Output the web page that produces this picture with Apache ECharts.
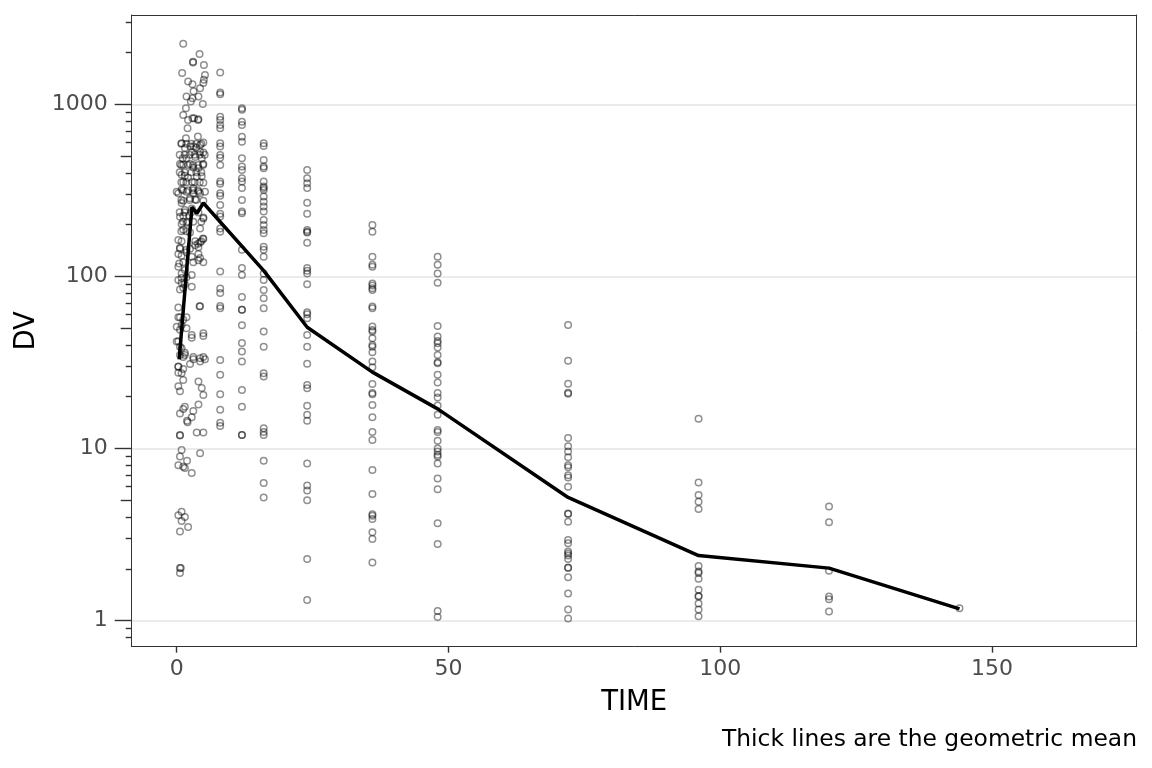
<!DOCTYPE html>
<html>
<head>
<meta charset="utf-8">
<script src="https://cdn.jsdelivr.net/npm/echarts@6/dist/echarts.min.js"></script>
<style>
  html, body { margin: 0; padding: 0; background: #fff; }
  #main { width: 1152px; height: 768px; }
</style>
</head>
<body>
<div id="main"></div>
<script>
// early samples (0-5.5 h), [time, DV]
const obsEarly = [
  [1.2, 2250], [4.2, 1960], [3.0, 1770], [3.0, 1750], [5.0, 1690], [1.0, 1520], [5.2, 1480],
  [2.1, 1355], [2.9, 1310], [4.9, 1330], [5.0, 1390], [3.1, 1190], [4.3, 1240], [1.8, 1110],
  [2.9, 1085], [4.0, 1110], [2.6, 1040], [4.8, 1005], [1.7, 950], [1.2, 867], [2.9, 830],
  [3.2, 830], [4.0, 820], [2.0, 726], [1.7, 635], [3.9, 650], [4.3, 580], [4.9, 600],
  [0.9, 594], [2.5, 568], [3.1, 568], [3.6, 560], [1.5, 557], [2.8, 528], [4.3, 530],
  [4.9, 525], [1.1, 486], [1.8, 486], [3.4, 495], [4.6, 486], [0.6, 450], [1.2, 445],
  [2.45, 450], [4.9, 450], [3.05, 430], [4.0, 425], [0.9, 390], [1.5, 385], [2.1, 375],
  [3.7, 380], [4.6, 382], [1.2, 354], [2.8, 354], [4.9, 350], [0.0, 310], [0.9, 320],
  [1.8, 310], [3.05, 325], [4.0, 310], [5.2, 310], [0.3, 304], [3.05, 304], [4.3, 304],
  [1.2, 275], [2.45, 285], [3.4, 280], [4.9, 275], [0.9, 267], [1.5, 243], [2.8, 248],
  [4.0, 235], [0.6, 222], [1.2, 225], [2.3, 225], [4.9, 220], [4.9, 217], [0.9, 202],
  [1.8, 205], [3.05, 208], [1.2, 187], [4.3, 190], [2.45, 180], [0.3, 163], [0.9, 160],
  [3.4, 160], [4.9, 165], [4.3, 158], [3.37, 152], [0.6, 147], [4.0, 148], [1.8, 143],
  [0.6, 145], [2.45, 145], [0.3, 135], [0.9, 132], [1.8, 138], [4.0, 135], [4.3, 128],
  [2.76, 130], [3.98, 124], [0.45, 119], [1.2, 121], [3.05, 121], [4.9, 121], [0.3, 114],
  [1.5, 109], [2.76, 102], [0.9, 104], [1.8, 99], [0.9, 98], [0.3, 95.5], [0.9, 92],
  [1.5, 90], [2.76, 87], [0.6, 84], [1.2, 86], [4.3, 67], [4.2, 67], [0.3, 66], [0.3, 58],
  [0.6, 58], [1.2, 56], [1.8, 58], [0.9, 52], [0.0, 51], [1.8, 50], [0.6, 49], [2.76, 44],
  [2.76, 45.7], [4.9, 45], [4.9, 46.8], [0.3, 42], [0.0, 41.9], [0.6, 39], [0.9, 38.3],
  [0.6, 35], [1.5, 36], [1.5, 35], [3.05, 33], [3.05, 34], [4.3, 32], [4.3, 33.5], [5.2, 33],
  [4.9, 34], [1.2, 34], [2.45, 31], [0.3, 30], [0.3, 29.9], [1.2, 29], [0.3, 27.6],
  [0.9, 27.4], [4.0, 24.5], [1.2, 25], [0.3, 23], [0.6, 21.5], [4.9, 20.5], [4.6, 22.5],
  [4.0, 18], [1.5, 17.5], [3.05, 16.5], [1.2, 17], [0.6, 16], [2.76, 15.2], [1.9, 14.5],
  [2.0, 14.2], [3.68, 12.4], [4.9, 12.4], [0.6, 12.0], [0.6, 11.9], [0.9, 9.8], [0.6, 9.0],
  [1.9, 8.5], [0.3, 8.0], [1.2, 7.85], [1.5, 7.7], [4.3, 9.4], [2.76, 7.2], [0.9, 4.3],
  [0.3, 4.1], [1.5, 4.0], [0.9, 3.8], [2.1, 3.5], [0.6, 3.3], [0.6, 2.02], [0.75, 2.02],
  [0.6, 1.89],
  // dense core of the cloud
  [2.08, 812], [3.92, 812], [0.85, 590], [1.77, 590], [2.69, 590], [3.6, 590], [4.53, 590],
  [0.55, 510], [1.47, 510], [2.39, 510], [3.3, 510], [4.23, 510], [5.15, 510],
  [0.85, 444], [2.08, 444], [3.0, 444], [3.92, 444], [4.84, 444],
  [0.55, 403], [1.47, 403], [2.69, 403], [3.6, 403], [4.53, 403],
  [0.85, 353], [1.77, 353], [3.3, 353], [4.23, 353],
  [1.16, 317], [2.08, 317], [3.0, 317], [3.92, 317],
  [0.85, 278], [2.39, 278], [3.6, 278],
  [0.55, 236], [1.47, 236], [2.69, 236],
  [1.16, 208], [2.08, 208], [4.53, 208],
  [0.85, 183], [1.77, 183], [4.84, 166], [4.53, 160], [3.92, 155]
];

// later samples: nominal time and DV values
const colTimes = [8, 12, 16, 24, 36, 48, 72, 96, 120, 144];
const dv8 = [1528, 1170, 1145, 848, 812, 759, 726, 594, 568, 508, 490, 444, 356, 345, 304, 294,
  260, 231, 223, 190, 182, 107, 85, 80, 67.4, 65.3, 32.7, 26.8, 20.7, 16.8, 14.1, 13.5];
const dv12 = [949, 930, 793, 759, 649, 607, 486, 435, 416, 372, 356, 326, 278, 238, 233, 143,
  112, 102, 76, 64, 64, 52, 41, 36.6, 32, 21.9, 17.5, 12.0, 12.0];
const dv16 = [594, 573, 475, 435, 425, 356, 333, 326, 318, 291, 272, 255, 238, 213, 199, 186,
  178, 149, 143, 130, 104, 95.5, 83.5, 74.6, 65.3, 47.8, 39.1, 27.4, 26.2, 13.1, 12.5, 12.0,
  8.5, 6.3, 5.2];
const dv24 = [416, 372, 348, 326, 268, 231, 186, 182, 180, 157, 112, 108, 104, 90, 62, 60.3,
  57.2, 45.7, 39.1, 31.1, 23.4, 22.4, 17.7, 15.7, 14.5, 8.2, 6.1, 5.7, 5.0, 2.28, 1.32];
const dv36 = [199, 182, 130, 117, 114, 91, 88.5, 85.4, 83.5, 66.8, 65.4, 51.1, 48.9, 47.8, 43.7,
  40.0, 39.1, 36.3, 32.0, 29.7, 23.7, 21.0, 20.7, 17.9, 15.2, 12.5, 11.2, 7.5, 5.45, 4.15,
  4.07, 3.90, 3.26, 2.98, 2.18];
const dv48 = [130, 117, 104, 92, 51.5, 44.7, 42.2, 40.9, 38.6, 35.0, 31.7, 31.3, 26.8, 24.2,
  21.0, 19.8, 17.8, 15.7, 12.8, 12.5, 11.1, 10.0, 9.6, 9.2, 9.0, 8.2, 6.7, 5.8, 3.68, 2.79,
  1.14, 1.05];
const dv72 = [52.3, 32.4, 23.8, 21.1, 20.8, 11.5, 10.3, 9.6, 8.9, 8.0, 7.8, 7.0, 6.8, 6.0, 4.2,
  4.17, 3.76, 2.94, 2.82, 2.52, 2.46, 2.39, 2.28, 2.04, 2.02, 1.79, 1.44, 1.16, 1.03];
const dv96 = [14.9, 6.34, 5.37, 4.91, 4.46, 2.08, 1.93, 1.89, 1.75, 1.51, 1.39, 1.38, 1.26,
  1.16, 1.06];
const dv120 = [4.6, 3.73, 1.95, 1.38, 1.33, 1.13];
const dv144 = [1.18];
const colDV = [dv8, dv12, dv16, dv24, dv36, dv48, dv72, dv96, dv120, dv144];

// geometric mean line
const gmTime = [0.45, 2.8, 3.7, 4.9, 16, 24, 36, 48, 72, 96, 120, 144];
const gmDV = [33, 253, 232, 267, 108, 50.7, 27.8, 17.0, 5.2, 2.39, 2.02, 1.17];

// axes
const xTicks = [0, 50, 100, 150];
const yMajor = [1, 10, 100, 1000];
const yMid = [5, 50, 500];
const yMinor = [0.8, 0.9, 2, 3, 4, 6, 7, 8, 9, 20, 30, 40, 60, 70, 80, 90,
  200, 300, 400, 600, 700, 800, 900, 2000, 3000];
const xMin = -8.28, xMax = 176.6;
const yMin = 0.706, yMax = 3303;

const font = 'DejaVu Sans';
const scatterData = obsEarly.concat(
  colTimes.flatMap((t, i) => colDV[i].map(v => [t, v]))
);
const gmData = gmTime.map((t, i) => [t, gmDV[i]]);

function tickAxis(vals, len) {
  return {
    type: 'log', logBase: 10, min: yMin, max: yMax, position: 'left',
    axisLine: { show: false, onZero: false },
    axisTick: { show: true, customValues: vals, length: len, lineStyle: { color: '#333', width: 1.4 } },
    axisLabel: { show: false },
    splitLine: { show: false }
  };
}

const chart = echarts.init(document.getElementById('main'));
chart.setOption({
  animation: false,
  backgroundColor: '#fff',
  textStyle: { fontFamily: font },
  title: {
    text: 'Thick lines are the geometric mean',
    right: 15, top: 728, padding: 0,
    textStyle: { fontFamily: font, fontSize: 23.4, fontWeight: 'normal', color: '#000' }
  },
  grid: { left: 131.7, right: 15.3, top: 15, bottom: 121.3 },
  xAxis: [{
    type: 'value', min: xMin, max: xMax, position: 'bottom',
    name: 'TIME', nameLocation: 'middle', nameGap: 42,
    nameTextStyle: { fontFamily: font, fontSize: 27.5, color: '#000' },
    axisLine: { show: true, onZero: false, lineStyle: { color: '#333', width: 1 } },
    axisTick: { show: true, customValues: xTicks, length: 6, lineStyle: { color: '#333', width: 1.4 } },
    axisLabel: { customValues: xTicks, fontSize: 22, color: '#4d4d4d', margin: 12 },
    splitLine: { show: false }
  }, {
    type: 'value', min: xMin, max: xMax, position: 'top',
    axisLine: { show: true, onZero: false, lineStyle: { color: '#333', width: 1 } },
    axisTick: { show: false }, axisLabel: { show: false }, splitLine: { show: false }
  }],
  yAxis: [{
    type: 'log', logBase: 10, min: yMin, max: yMax, position: 'left',
    name: 'DV', nameLocation: 'middle', nameGap: 85, nameRotate: 90,
    nameTextStyle: { fontFamily: font, fontSize: 27.5, color: '#000' },
    axisLine: { show: true, onZero: false, lineStyle: { color: '#333', width: 1 } },
    axisTick: { show: true, customValues: yMajor, length: 17, lineStyle: { color: '#333', width: 1.4 } },
    axisLabel: { customValues: yMajor, fontSize: 22, color: '#4d4d4d', margin: 24,
      formatter: v => String(Math.round(v)) },
    splitLine: { show: true, lineStyle: { color: '#ebebeb', width: 1.8 } }
  },
  tickAxis(yMid, 11),
  tickAxis(yMinor, 6),
  {
    type: 'log', logBase: 10, min: yMin, max: yMax, position: 'right',
    axisLine: { show: true, onZero: false, lineStyle: { color: '#333', width: 1 } },
    axisTick: { show: false }, axisLabel: { show: false }, splitLine: { show: false }
  }],
  series: [{
    type: 'scatter',
    data: scatterData,
    symbol: 'circle',
    symbolSize: 6.5,
    itemStyle: { color: 'rgba(0,0,0,0)', borderColor: 'rgba(0,0,0,0.55)', borderWidth: 1.5 },
    z: 2
  }, {
    type: 'line',
    data: gmData,
    showSymbol: false,
    symbol: 'none',
    lineStyle: { color: '#000', width: 3.5 },
    z: 3
  }]
});
</script>
</body>
</html>
